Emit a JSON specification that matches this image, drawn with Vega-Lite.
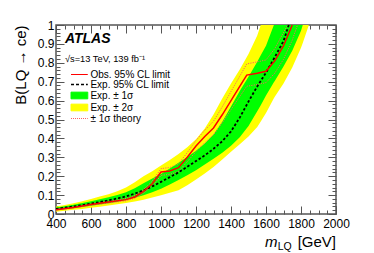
{
  "$schema": "https://vega.github.io/schema/vega-lite/v6.json",
  "width": 280,
  "height": 189,
  "autosize": "none",
  "padding": {"left": 56, "top": 25, "right": 38, "bottom": 39},
  "background": "white",
  "config": {
    "view": {"stroke": "#555", "strokeWidth": 1.5},
    "font": "Liberation Sans",
    "axis": {"grid": false, "domain": false, "tickColor": "#555", "tickWidth": 1, "labelFont": "Liberation Sans", "labelColor": "#000", "labelFontSize": 12}
  },
  "datasets": {
    "bands": [
      {"m": 400, "yl": 0.012, "gl": 0.020, "gu": 0.034, "yu": 0.040},
      {"m": 450, "yl": 0.017, "gl": 0.025, "gu": 0.041, "yu": 0.048},
      {"m": 500, "yl": 0.022, "gl": 0.031, "gu": 0.049, "yu": 0.057},
      {"m": 550, "yl": 0.027, "gl": 0.037, "gu": 0.058, "yu": 0.068},
      {"m": 600, "yl": 0.033, "gl": 0.043, "gu": 0.068, "yu": 0.080},
      {"m": 650, "yl": 0.039, "gl": 0.050, "gu": 0.078, "yu": 0.092},
      {"m": 700, "yl": 0.045, "gl": 0.057, "gu": 0.089, "yu": 0.105},
      {"m": 750, "yl": 0.051, "gl": 0.065, "gu": 0.101, "yu": 0.121},
      {"m": 800, "yl": 0.058, "gl": 0.074, "gu": 0.115, "yu": 0.140},
      {"m": 850, "yl": 0.066, "gl": 0.086, "gu": 0.136, "yu": 0.168},
      {"m": 900, "yl": 0.076, "gl": 0.099, "gu": 0.163, "yu": 0.200},
      {"m": 950, "yl": 0.087, "gl": 0.115, "gu": 0.188, "yu": 0.226},
      {"m": 1000, "yl": 0.099, "gl": 0.133, "gu": 0.212, "yu": 0.256},
      {"m": 1050, "yl": 0.112, "gl": 0.156, "gu": 0.241, "yu": 0.286},
      {"m": 1100, "yl": 0.126, "gl": 0.180, "gu": 0.271, "yu": 0.317},
      {"m": 1150, "yl": 0.152, "gl": 0.205, "gu": 0.301, "yu": 0.353},
      {"m": 1200, "yl": 0.183, "gl": 0.232, "gu": 0.334, "yu": 0.395},
      {"m": 1250, "yl": 0.214, "gl": 0.262, "gu": 0.373, "yu": 0.452},
      {"m": 1300, "yl": 0.249, "gl": 0.292, "gu": 0.421, "yu": 0.527},
      {"m": 1350, "yl": 0.289, "gl": 0.324, "gu": 0.488, "yu": 0.611},
      {"m": 1400, "yl": 0.329, "gl": 0.361, "gu": 0.569, "yu": 0.690},
      {"m": 1450, "yl": 0.369, "gl": 0.406, "gu": 0.651, "yu": 0.764},
      {"m": 1500, "yl": 0.410, "gl": 0.466, "gu": 0.726, "yu": 0.847},
      {"m": 1550, "yl": 0.460, "gl": 0.544, "gu": 0.805, "yu": 0.944},
      {"m": 1570, "yl": 0.490, "gl": 0.575, "gu": 0.840, "yu": 1},
      {"m": 1600, "yl": 0.535, "gl": 0.627, "gu": 0.890, "yu": 1},
      {"m": 1645, "yl": 0.612, "gl": 0.697, "gu": 1, "yu": 1},
      {"m": 1650, "yl": 0.620, "gl": 0.704, "gu": 1, "yu": 1},
      {"m": 1700, "yl": 0.690, "gl": 0.781, "gu": 1, "yu": 1},
      {"m": 1750, "yl": 0.775, "gl": 0.864, "gu": 1, "yu": 1},
      {"m": 1800, "yl": 0.880, "gl": 0.970, "gu": 1, "yu": 1},
      {"m": 1810, "yl": 0.905, "gl": 1, "gu": 1, "yu": 1},
      {"m": 1845, "yl": 1, "gl": 1, "gu": 1, "yu": 1}
    ],
    "lines": [
      {"s": "Obs. 95% CL limit", "id": "obs", "m": 400, "B": 0.022},
      {"s": "Obs. 95% CL limit", "id": "obs", "m": 500, "B": 0.035},
      {"s": "Obs. 95% CL limit", "id": "obs", "m": 600, "B": 0.050},
      {"s": "Obs. 95% CL limit", "id": "obs", "m": 700, "B": 0.063},
      {"s": "Obs. 95% CL limit", "id": "obs", "m": 800, "B": 0.076},
      {"s": "Obs. 95% CL limit", "id": "obs", "m": 850, "B": 0.090},
      {"s": "Obs. 95% CL limit", "id": "obs", "m": 900, "B": 0.120},
      {"s": "Obs. 95% CL limit", "id": "obs", "m": 950, "B": 0.160},
      {"s": "Obs. 95% CL limit", "id": "obs", "m": 1000, "B": 0.222},
      {"s": "Obs. 95% CL limit", "id": "obs", "m": 1050, "B": 0.228},
      {"s": "Obs. 95% CL limit", "id": "obs", "m": 1100, "B": 0.245},
      {"s": "Obs. 95% CL limit", "id": "obs", "m": 1150, "B": 0.300},
      {"s": "Obs. 95% CL limit", "id": "obs", "m": 1200, "B": 0.360},
      {"s": "Obs. 95% CL limit", "id": "obs", "m": 1250, "B": 0.410},
      {"s": "Obs. 95% CL limit", "id": "obs", "m": 1300, "B": 0.455},
      {"s": "Obs. 95% CL limit", "id": "obs", "m": 1350, "B": 0.525},
      {"s": "Obs. 95% CL limit", "id": "obs", "m": 1400, "B": 0.600},
      {"s": "Obs. 95% CL limit", "id": "obs", "m": 1450, "B": 0.675},
      {"s": "Obs. 95% CL limit", "id": "obs", "m": 1490, "B": 0.735},
      {"s": "Obs. 95% CL limit", "id": "obs", "m": 1550, "B": 0.745},
      {"s": "Obs. 95% CL limit", "id": "obs", "m": 1600, "B": 0.755},
      {"s": "Obs. 95% CL limit", "id": "obs", "m": 1650, "B": 0.810},
      {"s": "Obs. 95% CL limit", "id": "obs", "m": 1700, "B": 0.890},
      {"s": "Obs. 95% CL limit", "id": "obs", "m": 1750, "B": 1.0},
      {"s": "Exp. 95% CL limit", "id": "exp", "m": 400, "B": 0.027},
      {"s": "Exp. 95% CL limit", "id": "exp", "m": 450, "B": 0.033},
      {"s": "Exp. 95% CL limit", "id": "exp", "m": 500, "B": 0.040},
      {"s": "Exp. 95% CL limit", "id": "exp", "m": 550, "B": 0.047},
      {"s": "Exp. 95% CL limit", "id": "exp", "m": 600, "B": 0.055},
      {"s": "Exp. 95% CL limit", "id": "exp", "m": 650, "B": 0.063},
      {"s": "Exp. 95% CL limit", "id": "exp", "m": 700, "B": 0.072},
      {"s": "Exp. 95% CL limit", "id": "exp", "m": 750, "B": 0.082},
      {"s": "Exp. 95% CL limit", "id": "exp", "m": 800, "B": 0.093},
      {"s": "Exp. 95% CL limit", "id": "exp", "m": 850, "B": 0.108},
      {"s": "Exp. 95% CL limit", "id": "exp", "m": 900, "B": 0.125},
      {"s": "Exp. 95% CL limit", "id": "exp", "m": 950, "B": 0.146},
      {"s": "Exp. 95% CL limit", "id": "exp", "m": 1000, "B": 0.170},
      {"s": "Exp. 95% CL limit", "id": "exp", "m": 1050, "B": 0.195},
      {"s": "Exp. 95% CL limit", "id": "exp", "m": 1100, "B": 0.220},
      {"s": "Exp. 95% CL limit", "id": "exp", "m": 1150, "B": 0.250},
      {"s": "Exp. 95% CL limit", "id": "exp", "m": 1200, "B": 0.280},
      {"s": "Exp. 95% CL limit", "id": "exp", "m": 1250, "B": 0.310},
      {"s": "Exp. 95% CL limit", "id": "exp", "m": 1300, "B": 0.345},
      {"s": "Exp. 95% CL limit", "id": "exp", "m": 1350, "B": 0.385},
      {"s": "Exp. 95% CL limit", "id": "exp", "m": 1400, "B": 0.437},
      {"s": "Exp. 95% CL limit", "id": "exp", "m": 1450, "B": 0.510},
      {"s": "Exp. 95% CL limit", "id": "exp", "m": 1500, "B": 0.595},
      {"s": "Exp. 95% CL limit", "id": "exp", "m": 1550, "B": 0.675},
      {"s": "Exp. 95% CL limit", "id": "exp", "m": 1600, "B": 0.748},
      {"s": "Exp. 95% CL limit", "id": "exp", "m": 1650, "B": 0.830},
      {"s": "Exp. 95% CL limit", "id": "exp", "m": 1700, "B": 0.915},
      {"s": "Exp. 95% CL limit", "id": "exp", "m": 1730, "B": 1.0},
      {"s": "± 1σ theory", "id": "thUp", "m": 400, "B": 0.024},
      {"s": "± 1σ theory", "id": "thUp", "m": 500, "B": 0.038},
      {"s": "± 1σ theory", "id": "thUp", "m": 600, "B": 0.054},
      {"s": "± 1σ theory", "id": "thUp", "m": 700, "B": 0.068},
      {"s": "± 1σ theory", "id": "thUp", "m": 800, "B": 0.082},
      {"s": "± 1σ theory", "id": "thUp", "m": 850, "B": 0.097},
      {"s": "± 1σ theory", "id": "thUp", "m": 900, "B": 0.130},
      {"s": "± 1σ theory", "id": "thUp", "m": 950, "B": 0.173},
      {"s": "± 1σ theory", "id": "thUp", "m": 1000, "B": 0.240},
      {"s": "± 1σ theory", "id": "thUp", "m": 1050, "B": 0.246},
      {"s": "± 1σ theory", "id": "thUp", "m": 1100, "B": 0.265},
      {"s": "± 1σ theory", "id": "thUp", "m": 1150, "B": 0.325},
      {"s": "± 1σ theory", "id": "thUp", "m": 1200, "B": 0.389},
      {"s": "± 1σ theory", "id": "thUp", "m": 1250, "B": 0.443},
      {"s": "± 1σ theory", "id": "thUp", "m": 1300, "B": 0.491},
      {"s": "± 1σ theory", "id": "thUp", "m": 1350, "B": 0.567},
      {"s": "± 1σ theory", "id": "thUp", "m": 1400, "B": 0.648},
      {"s": "± 1σ theory", "id": "thUp", "m": 1450, "B": 0.729},
      {"s": "± 1σ theory", "id": "thUp", "m": 1490, "B": 0.794},
      {"s": "± 1σ theory", "id": "thUp", "m": 1550, "B": 0.805},
      {"s": "± 1σ theory", "id": "thUp", "m": 1600, "B": 0.815},
      {"s": "± 1σ theory", "id": "thUp", "m": 1650, "B": 0.875},
      {"s": "± 1σ theory", "id": "thUp", "m": 1700, "B": 0.961},
      {"s": "± 1σ theory", "id": "thUp", "m": 1725, "B": 1.0},
      {"s": "± 1σ theory", "id": "thDn", "m": 400, "B": 0.020},
      {"s": "± 1σ theory", "id": "thDn", "m": 500, "B": 0.032},
      {"s": "± 1σ theory", "id": "thDn", "m": 600, "B": 0.046},
      {"s": "± 1σ theory", "id": "thDn", "m": 700, "B": 0.058},
      {"s": "± 1σ theory", "id": "thDn", "m": 800, "B": 0.070},
      {"s": "± 1σ theory", "id": "thDn", "m": 850, "B": 0.083},
      {"s": "± 1σ theory", "id": "thDn", "m": 900, "B": 0.110},
      {"s": "± 1σ theory", "id": "thDn", "m": 950, "B": 0.147},
      {"s": "± 1σ theory", "id": "thDn", "m": 1000, "B": 0.204},
      {"s": "± 1σ theory", "id": "thDn", "m": 1050, "B": 0.210},
      {"s": "± 1σ theory", "id": "thDn", "m": 1100, "B": 0.225},
      {"s": "± 1σ theory", "id": "thDn", "m": 1150, "B": 0.276},
      {"s": "± 1σ theory", "id": "thDn", "m": 1200, "B": 0.331},
      {"s": "± 1σ theory", "id": "thDn", "m": 1250, "B": 0.377},
      {"s": "± 1σ theory", "id": "thDn", "m": 1300, "B": 0.419},
      {"s": "± 1σ theory", "id": "thDn", "m": 1350, "B": 0.483},
      {"s": "± 1σ theory", "id": "thDn", "m": 1400, "B": 0.552},
      {"s": "± 1σ theory", "id": "thDn", "m": 1450, "B": 0.621},
      {"s": "± 1σ theory", "id": "thDn", "m": 1490, "B": 0.676},
      {"s": "± 1σ theory", "id": "thDn", "m": 1550, "B": 0.685},
      {"s": "± 1σ theory", "id": "thDn", "m": 1600, "B": 0.695},
      {"s": "± 1σ theory", "id": "thDn", "m": 1650, "B": 0.745},
      {"s": "± 1σ theory", "id": "thDn", "m": 1700, "B": 0.819},
      {"s": "± 1σ theory", "id": "thDn", "m": 1750, "B": 0.920},
      {"s": "± 1σ theory", "id": "thDn", "m": 1780, "B": 1.0}
    ],
    "one": [{}]
  },
  "resolve": {"axis": {"x": "independent", "y": "independent"}},
  "layer": [
    {
      "data": {"name": "bands"},
      "mark": {"type": "area", "orient": "vertical"},
      "encoding": {
        "x": {"field": "m", "type": "quantitative", "scale": {"domain": [400, 2000], "nice": false, "zero": false},
          "axis": {"orient": "bottom", "values": [400, 600, 800, 1000, 1200, 1400, 1600, 1800, 2000], "format": "d", "tickSize": -8, "labelPadding": 12, "labelFlush": false, "title": null}},
        "y": {"field": "yl", "type": "quantitative", "scale": {"domain": [0, 1], "nice": false, "zero": false},
          "axis": {"orient": "left", "values": [0, 0.1, 0.2, 0.3, 0.4, 0.5, 0.6, 0.7, 0.8, 0.9, 1], "format": ".1~f", "tickSize": -8, "labelPadding": 10, "labelFlush": false,
            "title": "B(LQ → ce)", "titleFont": "Liberation Sans", "titleFontSize": 15, "titleFontWeight": "normal", "titleColor": "#000", "titleAngle": 270, "titleAlign": "right", "titleBaseline": "middle", "titleX": -36, "titleY": 0}},
        "y2": {"field": "yu"},
        "color": {"datum": "Exp. ± 2σ", "type": "nominal", "title": null,
          "scale": {"domain": ["Obs. 95% CL limit", "Exp. 95% CL limit", "Exp. ± 1σ", "Exp. ± 2σ", "± 1σ theory"], "range": ["#ff0000", "#000000", "#00ff00", "#ffff00", "#ff6060"]},
          "legend": {"orient": "none", "legendX": 18.4, "legendY": 44.5, "title": null, "padding": 0, "labelFont": "Liberation Sans", "labelFontSize": 10, "labelColor": "#000", "labelOffset": 6, "rowPadding": 0, "symbolSize": 125, "labelBaseline": "middle",
            "encode": {"symbols": {"update": {
              "shape": {"signal": "(datum.value === 'Exp. ± 1σ' || datum.value === 'Exp. ± 2σ') ? 'M-1.5,-0.6H1.5V0.6H-1.5Z' : 'M-1.5,0H1.5'"},
              "fill": {"signal": "datum.value === 'Exp. ± 1σ' ? '#00ff00' : (datum.value === 'Exp. ± 2σ' ? '#ffff00' : 'transparent')"},
              "stroke": {"signal": "datum.value === 'Obs. 95% CL limit' ? '#ff0000' : (datum.value === '± 1σ theory' ? '#ff8080' : '#000000')"},
              "strokeDash": {"signal": "datum.value === 'Exp. 95% CL limit' ? [3, 2] : (datum.value === '± 1σ theory' ? [1, 1] : [1, 0])"},
              "strokeWidth": {"signal": "datum.value === 'Exp. 95% CL limit' ? 1.5 : 1"},
              "opacity": {"value": 1},
              "size": {"value": 125}
            }}}}
        }
      }
    },
    {
      "data": {"name": "bands"},
      "mark": {"type": "area", "orient": "vertical"},
      "encoding": {
        "x": {"field": "m", "type": "quantitative", "scale": {"domain": [400, 2000], "nice": false, "zero": false},
          "axis": {"orient": "bottom", "values": [450, 500, 550, 650, 700, 750, 850, 900, 950, 1050, 1100, 1150, 1250, 1300, 1350, 1450, 1500, 1550, 1650, 1700, 1750, 1850, 1900, 1950], "tickSize": -4, "labels": false, "title": null}},
        "y": {"field": "gl", "type": "quantitative", "scale": {"domain": [0, 1], "nice": false, "zero": false},
          "axis": {"orient": "left", "values": [0.02, 0.04, 0.06, 0.08, 0.12, 0.14, 0.16, 0.18, 0.22, 0.24, 0.26, 0.28, 0.32, 0.34, 0.36, 0.38, 0.42, 0.44, 0.46, 0.48, 0.52, 0.54, 0.56, 0.58, 0.62, 0.64, 0.66, 0.68, 0.72, 0.74, 0.76, 0.78, 0.82, 0.84, 0.86, 0.88, 0.92, 0.94, 0.96, 0.98], "tickSize": -4, "labels": false, "title": null}},
        "y2": {"field": "gu"},
        "color": {"datum": "Exp. ± 1σ", "type": "nominal", "title": null}
      }
    },
    {
      "data": {"name": "lines"},
      "transform": [{"filter": "datum.id === 'thUp' || datum.id === 'thDn'"}],
      "mark": {"type": "line", "strokeWidth": 1, "strokeDash": [1.2, 1.2]},
      "encoding": {
        "x": {"field": "m", "type": "quantitative", "scale": {"domain": [400, 2000], "nice": false, "zero": false},
          "axis": {"orient": "top", "values": [400, 600, 800, 1000, 1200, 1400, 1600, 1800, 2000], "tickSize": -8, "labels": false, "title": null}},
        "y": {"field": "B", "type": "quantitative", "scale": {"domain": [0, 1], "nice": false, "zero": false},
          "axis": {"orient": "right", "values": [0, 0.1, 0.2, 0.3, 0.4, 0.5, 0.6, 0.7, 0.8, 0.9, 1], "tickSize": -8, "labels": false, "title": null}},
        "detail": {"field": "id", "type": "nominal"},
        "color": {"field": "s", "type": "nominal", "title": null}
      }
    },
    {
      "data": {"name": "lines"},
      "transform": [{"filter": "datum.id === 'exp'"}],
      "mark": {"type": "line", "strokeWidth": 1.8, "strokeDash": [2.5, 2]},
      "encoding": {
        "x": {"field": "m", "type": "quantitative", "scale": {"domain": [400, 2000], "nice": false, "zero": false},
          "axis": {"orient": "top", "values": [450, 500, 550, 650, 700, 750, 850, 900, 950, 1050, 1100, 1150, 1250, 1300, 1350, 1450, 1500, 1550, 1650, 1700, 1750, 1850, 1900, 1950], "tickSize": -4, "labels": false, "title": null}},
        "y": {"field": "B", "type": "quantitative", "scale": {"domain": [0, 1], "nice": false, "zero": false},
          "axis": {"orient": "right", "values": [0.02, 0.04, 0.06, 0.08, 0.12, 0.14, 0.16, 0.18, 0.22, 0.24, 0.26, 0.28, 0.32, 0.34, 0.36, 0.38, 0.42, 0.44, 0.46, 0.48, 0.52, 0.54, 0.56, 0.58, 0.62, 0.64, 0.66, 0.68, 0.72, 0.74, 0.76, 0.78, 0.82, 0.84, 0.86, 0.88, 0.92, 0.94, 0.96, 0.98], "tickSize": -4, "labels": false, "title": null}},
        "color": {"field": "s", "type": "nominal", "title": null}
      }
    },
    {
      "data": {"name": "lines"},
      "transform": [{"filter": "datum.id === 'obs'"}],
      "mark": {"type": "line", "strokeWidth": 1.5},
      "encoding": {
        "x": {"field": "m", "type": "quantitative", "scale": {"domain": [400, 2000], "nice": false, "zero": false}, "axis": null},
        "y": {"field": "B", "type": "quantitative", "scale": {"domain": [0, 1], "nice": false, "zero": false}, "axis": null},
        "color": {"field": "s", "type": "nominal", "title": null}
      }
    },
    {
      "data": {"name": "one"},
      "mark": {"type": "text", "text": "ATLAS", "font": "Liberation Sans", "fontSize": 14, "fontWeight": "bold", "fontStyle": "italic", "align": "left", "baseline": "alphabetic", "color": "#000"},
      "encoding": {
        "x": {"datum": 451, "type": "quantitative", "scale": {"domain": [400, 2000]}, "axis": null},
        "y": {"datum": 0.903, "type": "quantitative", "scale": {"domain": [0, 1]}, "axis": null}
      }
    },
    {
      "data": {"name": "one"},
      "mark": {"type": "text", "text": "√s=13 TeV, 139 fb⁻¹", "font": "Liberation Sans", "fontSize": 9.3, "align": "left", "baseline": "alphabetic", "color": "#000"},
      "encoding": {
        "x": {"datum": 451, "type": "quantitative", "scale": {"domain": [400, 2000]}, "axis": null},
        "y": {"datum": 0.806, "type": "quantitative", "scale": {"domain": [0, 1]}, "axis": null}
      }
    },
    {
      "data": {"name": "one"},
      "mark": {"type": "text", "text": "m", "font": "Liberation Sans", "fontSize": 15, "fontStyle": "italic", "align": "left", "baseline": "alphabetic", "color": "#000"},
      "encoding": {
        "x": {"datum": 1594, "type": "quantitative", "scale": {"domain": [400, 2000]}, "axis": null},
        "y": {"datum": -0.173, "type": "quantitative", "scale": {"domain": [0, 1]}, "axis": null}
      }
    },
    {
      "data": {"name": "one"},
      "mark": {"type": "text", "text": "LQ", "font": "Liberation Sans", "fontSize": 10.5, "align": "left", "baseline": "alphabetic", "color": "#000"},
      "encoding": {
        "x": {"datum": 1667, "type": "quantitative", "scale": {"domain": [400, 2000]}, "axis": null},
        "y": {"datum": -0.188, "type": "quantitative", "scale": {"domain": [0, 1]}, "axis": null}
      }
    },
    {
      "data": {"name": "one"},
      "mark": {"type": "text", "text": "[GeV]", "font": "Liberation Sans", "fontSize": 15, "align": "right", "baseline": "alphabetic", "color": "#000"},
      "encoding": {
        "x": {"datum": 2000, "type": "quantitative", "scale": {"domain": [400, 2000]}, "axis": null},
        "y": {"datum": -0.173, "type": "quantitative", "scale": {"domain": [0, 1]}, "axis": null}
      }
    }
  ]
}
